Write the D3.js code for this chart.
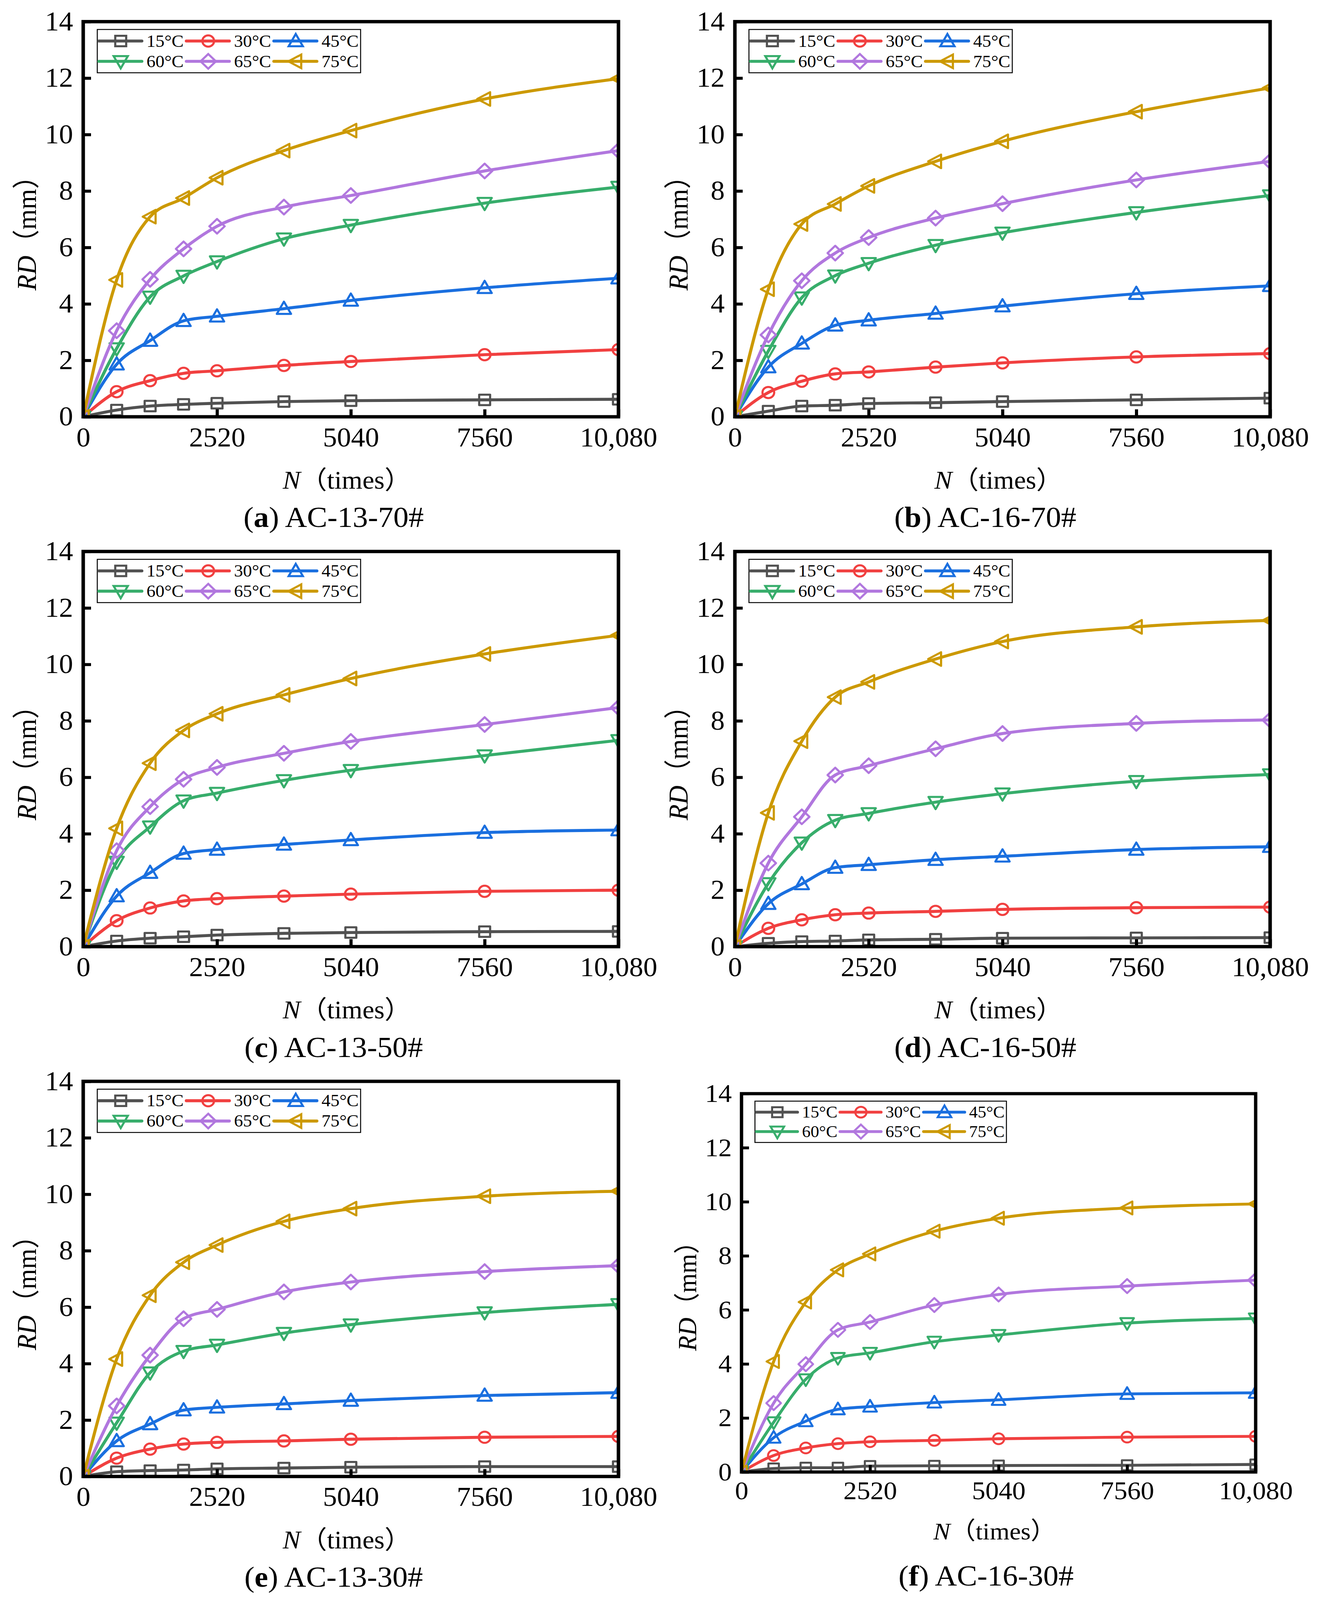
<!DOCTYPE html>
<html>

<head>
    <meta charset="UTF-8">
    <title>RD vs N for six asphalt mixes</title>
    <style>
        html, body { margin: 0; padding: 0; height: 100%; overflow: hidden; background: #fff; }
        svg { display: block; }
        text { font-family: 'Liberation Serif', 'Times New Roman', 'Noto Sans CJK SC', serif; fill: #000; }
    </style>
</head>

<body>
    <svg id="chart"></svg>
    <script src="https://d3js.org/d3.v7.min.js"></script>
    <script>
        // loading cycles N (times)
        const cycles = [0, 630, 1260, 1890, 2520, 3780, 5040, 7560, 10080];
        const temps = ["15°C", "30°C", "45°C", "60°C", "65°C", "75°C"];
        const xTicks = [0, 2520, 5040, 7560, 10080];
        const xTickLabels = ["0", "2520", "5040", "7560", "10,080"];
        const yTicks = [0, 2, 4, 6, 8, 10, 12, 14];
        const panelLetters = ["a", "b", "c", "d", "e", "f"];
        const panelNames = ["AC-13-70#", "AC-16-70#", "AC-13-50#", "AC-16-50#", "AC-13-30#", "AC-16-30#"];

        // RD (mm), one row per temperature (15, 30, 45, 60, 65, 75 °C)
        const rdAC13_70 = [
            [0, 0.24, 0.38, 0.44, 0.48, 0.54, 0.57, 0.60, 0.62],
            [0, 0.89, 1.28, 1.54, 1.63, 1.82, 1.96, 2.20, 2.38],
            [0, 1.86, 2.70, 3.40, 3.56, 3.83, 4.12, 4.57, 4.91],
            [0, 2.42, 4.25, 4.99, 5.50, 6.31, 6.79, 7.57, 8.14],
            [0, 3.05, 4.87, 5.95, 6.75, 7.43, 7.84, 8.71, 9.43],
            [0, 4.85, 7.09, 7.75, 8.47, 9.43, 10.14, 11.26, 11.98]
        ];
        const rdAC16_70 = [
            [0, 0.20, 0.38, 0.41, 0.47, 0.50, 0.54, 0.60, 0.66],
            [0, 0.86, 1.26, 1.52, 1.59, 1.76, 1.91, 2.12, 2.24],
            [0, 1.76, 2.60, 3.24, 3.42, 3.66, 3.92, 4.36, 4.64],
            [0, 2.33, 4.22, 5.00, 5.44, 6.08, 6.52, 7.24, 7.84],
            [0, 2.90, 4.82, 5.80, 6.35, 7.04, 7.55, 8.39, 9.05],
            [0, 4.52, 6.83, 7.54, 8.18, 9.05, 9.76, 10.81, 11.65]
        ];
        const rdAC13_50 = [
            [0, 0.20, 0.30, 0.35, 0.41, 0.47, 0.50, 0.53, 0.54],
            [0, 0.92, 1.37, 1.62, 1.70, 1.79, 1.86, 1.96, 2.00],
            [0, 1.79, 2.62, 3.30, 3.44, 3.62, 3.78, 4.04, 4.13],
            [0, 3.00, 4.25, 5.17, 5.44, 5.89, 6.25, 6.77, 7.31],
            [0, 3.40, 4.96, 5.93, 6.35, 6.85, 7.27, 7.87, 8.47],
            [0, 4.19, 6.50, 7.66, 8.25, 8.92, 9.50, 10.37, 11.03]
        ];
        const rdAC16_50 = [
            [0, 0.12, 0.18, 0.20, 0.24, 0.26, 0.30, 0.31, 0.32],
            [0, 0.65, 0.95, 1.13, 1.19, 1.25, 1.32, 1.38, 1.40],
            [0, 1.52, 2.22, 2.80, 2.90, 3.08, 3.20, 3.44, 3.54],
            [0, 2.24, 3.68, 4.48, 4.72, 5.12, 5.42, 5.86, 6.10],
            [0, 2.96, 4.60, 6.08, 6.41, 7.01, 7.55, 7.91, 8.03],
            [0, 4.74, 7.28, 8.84, 9.38, 10.19, 10.81, 11.33, 11.56]
        ];
        const rdAC13_30 = [
            [0, 0.17, 0.21, 0.23, 0.27, 0.30, 0.33, 0.35, 0.35],
            [0, 0.65, 0.97, 1.15, 1.21, 1.26, 1.32, 1.39, 1.42],
            [0, 1.26, 1.86, 2.35, 2.45, 2.57, 2.69, 2.87, 2.97],
            [0, 1.90, 3.68, 4.44, 4.66, 5.08, 5.38, 5.81, 6.10],
            [0, 2.50, 4.30, 5.59, 5.92, 6.54, 6.89, 7.26, 7.47],
            [0, 4.16, 6.42, 7.59, 8.20, 9.04, 9.49, 9.93, 10.11]
        ];
        const rdAC16_30 = [
            [0, 0.13, 0.16, 0.16, 0.22, 0.23, 0.24, 0.25, 0.28],
            [0, 0.61, 0.89, 1.05, 1.12, 1.17, 1.23, 1.29, 1.32],
            [0, 1.27, 1.88, 2.32, 2.42, 2.57, 2.67, 2.89, 2.93],
            [0, 1.84, 3.43, 4.22, 4.41, 4.82, 5.07, 5.51, 5.68],
            [0, 2.55, 3.99, 5.26, 5.55, 6.18, 6.57, 6.88, 7.10],
            [0, 4.09, 6.29, 7.48, 8.07, 8.91, 9.39, 9.77, 9.92]
        ];
        const panelData = [rdAC13_70, rdAC16_70, rdAC13_50, rdAC16_50, rdAC13_30, rdAC16_30];

        // styles
        const colors = ["#515151", "#F14040", "#1A6FDF", "#37AD6B", "#B177DE", "#CC9900"];
        const shapes = ["square", "circle", "up", "down", "diamond", "left"];

        // frame boxes of the six panels and text offsets below them
        const layout = [
            { left: 213, top: 58, w: 1370, h: 1059, k: 1, tickY: 28, titleY: 170, capY: 270, capDX: -44 },
            { left: 1881, top: 58, w: 1370, h: 1059, k: 1, tickY: 28, titleY: 170, capY: 270, capDX: -44 },
            { left: 213, top: 1478, w: 1370, h: 1059, k: 1, tickY: 28, titleY: 170, capY: 270, capDX: -44 },
            { left: 1881, top: 1478, w: 1370, h: 1059, k: 1, tickY: 28, titleY: 170, capY: 270, capDX: -44 },
            { left: 213, top: 2898, w: 1370, h: 1059, k: 1, tickY: 28, titleY: 170, capY: 270, capDX: -44 },
            { left: 1898, top: 2931, w: 1316, h: 1014, k: 0.955, tickY: 24, titleY: 159, capY: 279, capDX: -32 }
        ];

        // draw in a 3371x4288 space and fit it to whatever viewport we get
        const svg = d3.select("#chart")
            .attr("viewBox", "0 0 3371 4288")
            .attr("preserveAspectRatio", "none")
            .style("width", "100vw")
            .style("height", "100vh");

        svg.append("rect").attr("width", 3371).attr("height", 4288).attr("fill", "#fff");

        function markerPath(type, k) {
            const h = 14 * k;
            switch (type) {
                case "square":
                    return `M${-h},${-h}H${h}V${h}H${-h}Z`;
                case "circle":
                    return `M${-h - 1},0A${h + 1},${h + 1} 0 1,0 ${h + 1},0A${h + 1},${h + 1} 0 1,0 ${-h - 1},0Z`;
                case "up":
                    return `M0,${-h * 1.35}L${h * 1.3},${h * 1.0}L${-h * 1.3},${h * 1.0}Z`;
                case "down":
                    return `M0,${h * 1.35}L${h * 1.3},${-h * 1.0}L${-h * 1.3},${-h * 1.0}Z`;
                case "diamond":
                    return `M0,${-h * 1.4}L${h * 1.4},0L0,${h * 1.4}L${-h * 1.4},0Z`;
                case "left":
                    return `M${-h * 1.35},0L${h * 1.0},${-h * 1.3}L${h * 1.0},${h * 1.3}Z`;
            }
        }

        layout.forEach((p, pi) => {
            const k = p.k;
            const x = d3.scaleLinear().domain([0, 10080]).range([p.left, p.left + p.w]);
            const y = d3.scaleLinear().domain([0, 14]).range([p.top + p.h, p.top]);
            const g = svg.append("g");

            g.append("clipPath").attr("id", "clip" + pi)
                .append("rect")
                .attr("x", p.left).attr("y", p.top)
                .attr("width", p.w).attr("height", p.h);

            const plot = g.append("g").attr("clip-path", `url(#clip${pi})`);

            const line = d3.line()
                .x((d, i) => x(cycles[i]))
                .y(d => y(d))
                .curve(d3.curveMonotoneX);

            panelData[pi].forEach((series, si) => {
                plot.append("path")
                    .attr("d", line(series))
                    .attr("fill", "none")
                    .attr("stroke", colors[si])
                    .attr("stroke-width", 8 * k)
                    .attr("stroke-linejoin", "round");

                plot.selectAll(null)
                    .data(series)
                    .enter().append("path")
                    .attr("transform", (d, i) => `translate(${x(cycles[i])},${y(d)})`)
                    .attr("d", markerPath(shapes[si], k))
                    .attr("fill", "none")
                    .attr("stroke", colors[si])
                    .attr("stroke-width", 5.5 * k)
                    .attr("stroke-linejoin", "round");
            });

            // axes, ticks pointing inward
            const xAxis = g.append("g")
                .attr("transform", `translate(0,${p.top + p.h})`)
                .call(d3.axisBottom(x).tickValues(xTicks)
                    .tickFormat((d, i) => xTickLabels[i])
                    .tickSize(-20 * k).tickPadding(p.tickY));
            const yAxis = g.append("g")
                .attr("transform", `translate(${p.left},0)`)
                .call(d3.axisLeft(y).tickValues(yTicks)
                    .tickSize(-20 * k).tickPadding(26 * k));

            [xAxis, yAxis].forEach(ax => {
                ax.select(".domain").remove();
                ax.selectAll(".tick line").attr("stroke", "#000").attr("stroke-width", 8 * k);
                ax.selectAll(".tick text")
                    .attr("font-family", null)
                    .style("font-size", (72 * k) + "px")
                    .attr("fill", "#000");
            });

            g.append("rect")
                .attr("x", p.left).attr("y", p.top)
                .attr("width", p.w).attr("height", p.h)
                .attr("fill", "none")
                .attr("stroke", "#000")
                .attr("stroke-width", 9 * k);

            // legend
            const bx = p.left + 36 * k, by = p.top + 21 * k, bw = 674 * k, bh = 116 * k;
            const lg = g.append("g");
            lg.append("rect")
                .attr("x", bx).attr("y", by).attr("width", bw).attr("height", bh)
                .attr("fill", "#fff").attr("stroke", "#000").attr("stroke-width", 2.5);
            temps.forEach((t, si) => {
                const col = si % 3, row = Math.floor(si / 3);
                const cx = bx + (4 + col * 224) * k;
                const cy = by + (row === 0 ? 0.267 : 0.736) * bh;
                lg.append("line")
                    .attr("x1", cx).attr("x2", cx + 110 * k)
                    .attr("y1", cy).attr("y2", cy)
                    .attr("stroke", colors[si])
                    .attr("stroke-width", 8 * k)
                    .attr("stroke-linecap", "round");
                lg.append("path")
                    .attr("transform", `translate(${cx + 56 * k},${cy})`)
                    .attr("d", markerPath(shapes[si], k))
                    .attr("fill", "none")
                    .attr("stroke", colors[si])
                    .attr("stroke-width", 5.5 * k);
                lg.append("text")
                    .attr("x", cx + 122 * k)
                    .attr("y", cy)
                    .attr("dy", "0.33em")
                    .style("font-size", (46 * k) + "px")
                    .text(t);
            });

            // axis titles
            const yt = g.append("text")
                .attr("transform", `translate(${p.left - 121 * k},${p.top + p.h / 2 + 20 * k}) rotate(-90)`)
                .attr("text-anchor", "middle")
                .style("font-size", (70 * k) + "px");
            yt.append("tspan").style("font-style", "italic").text("RD");
            yt.append("tspan").text("（mm）");

            const xt = g.append("text")
                .attr("x", p.left + p.w / 2 - 10)
                .attr("y", p.top + p.h + p.titleY)
                .attr("dy", "0.33em")
                .attr("text-anchor", "middle")
                .style("font-size", (68 * k) + "px");
            xt.append("tspan").style("font-style", "italic").text("N");
            xt.append("tspan").text("（times）");

            // caption
            const cap = g.append("text")
                .attr("x", p.left + p.w / 2 + p.capDX)
                .attr("y", p.top + p.h + p.capY)
                .attr("dy", "0.33em")
                .attr("text-anchor", "middle")
                .style("font-size", "78px");
            cap.append("tspan").text("(");
            cap.append("tspan").style("font-weight", "bold").text(panelLetters[pi]);
            cap.append("tspan").text(") " + panelNames[pi]);
        });
    </script>
</body>

</html>
